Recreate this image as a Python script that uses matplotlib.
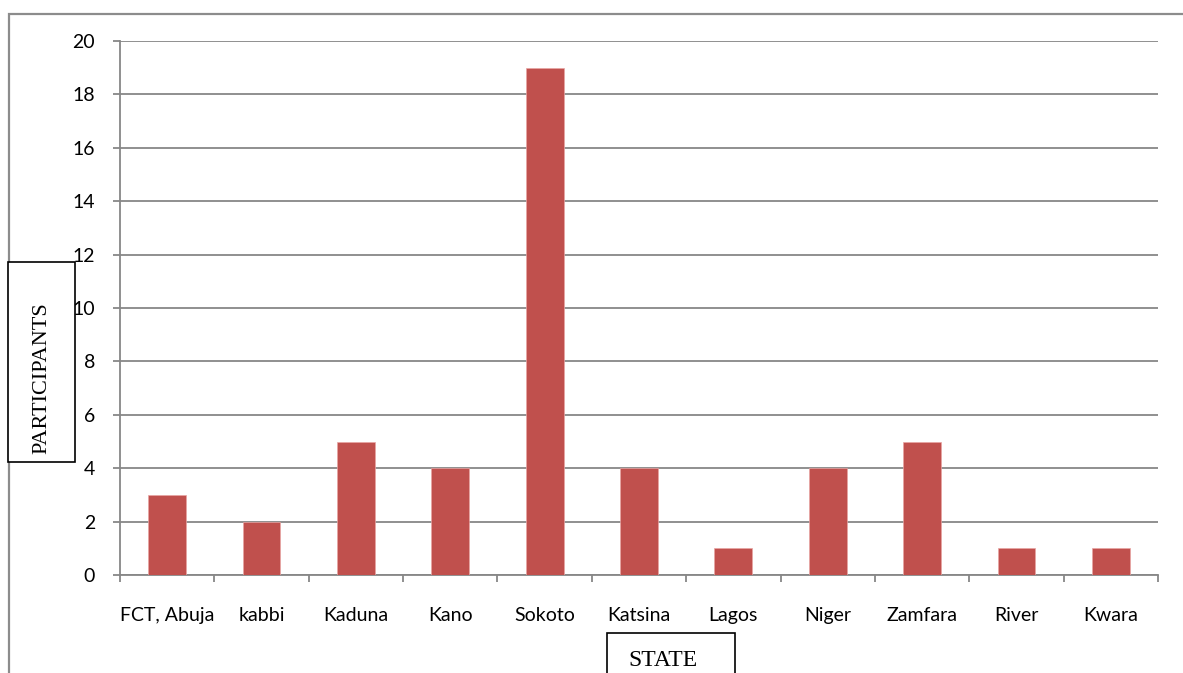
import matplotlib
matplotlib.use("Agg")
import matplotlib.pyplot as plt
from matplotlib.patches import Rectangle

states = ["FCT, Abuja", "kabbi", "Kaduna", "Kano", "Sokoto", "Katsina",
          "Lagos", "Niger", "Zamfara", "River", "Kwara"]
participants = [3, 2, 5, 4, 19, 4, 1, 4, 5, 1, 1]
y_ticks = [0, 2, 4, 6, 8, 10, 12, 14, 16, 18, 20]

W, H = 1183, 673
fig = plt.figure(figsize=(W / 100, H / 100), dpi=100)
fig.patch.set_facecolor("white")

# outer chart frame (extends beyond right/bottom)
fig.add_artist(Rectangle((8.5 / W, -0.1), 1.2, 1 - 13.5 / H + 0.1,
                         transform=fig.transFigure, fill=False,
                         edgecolor="#8c8c8c", linewidth=1.6))

ax = fig.add_axes([120 / W, 1 - 575 / H, (1158 - 120) / W, (575 - 41) / H])
grid_c = "#878787"
n = len(states)
x = list(range(n))
ax.bar(x, participants, width=0.4, color="#C0504D", edgecolor="#e8a5a3",
       linewidth=0.5, zorder=3)
ax.set_xlim(-0.5, n - 0.5)
ax.set_ylim(0, 20)
ax.set_yticks(y_ticks)
ax.yaxis.grid(True, color=grid_c, linewidth=1.3, zorder=0)
for s in ["top", "right"]:
    ax.spines[s].set_visible(False)
for s in ["left", "bottom"]:
    ax.spines[s].set_color(grid_c)
    ax.spines[s].set_linewidth(1.3)

ax.set_xticks([i - 0.5 for i in range(n + 1)], minor=False)
ax.set_xticklabels([])
ax.set_xticks(x, minor=True)
ax.set_xticklabels(states, minor=True)
ax.tick_params(axis="x", which="major", length=5, width=1.3, color=grid_c,
               direction="out")
ax.tick_params(axis="x", which="minor", length=0, pad=23, labelsize=14)
ax.tick_params(axis="y", length=5, width=1.3, color=grid_c, labelsize=14,
               pad=13)
for lab in ax.get_xticklabels(minor=True) + ax.get_yticklabels():
    lab.set_fontfamily("Lato")
    lab.set_color("black")

# axis title boxes
fig.add_artist(Rectangle((8 / W, 1 - 462 / H), (75 - 8) / W, (462 - 262) / H,
                         transform=fig.transFigure, fill=True, facecolor="white",
                         edgecolor="black", linewidth=1.2, zorder=5))
fig.text((41.5) / W, 1 - 378 / H, "PARTICIPANTS", rotation=90, ha="center",
         va="center", fontsize=16, family="Liberation Serif", zorder=6)
fig.add_artist(Rectangle((607 / W, -0.05), (735 - 607) / W, (673 - 633) / H + 0.05,
                         transform=fig.transFigure, fill=True, facecolor="white",
                         edgecolor="black", linewidth=1.2, zorder=5))
fig.text(663 / W, 1 - 660 / H, "STATE", ha="center", va="center",
         fontsize=17, family="Liberation Serif", zorder=6)

fig.savefig("out.png", dpi=100)
